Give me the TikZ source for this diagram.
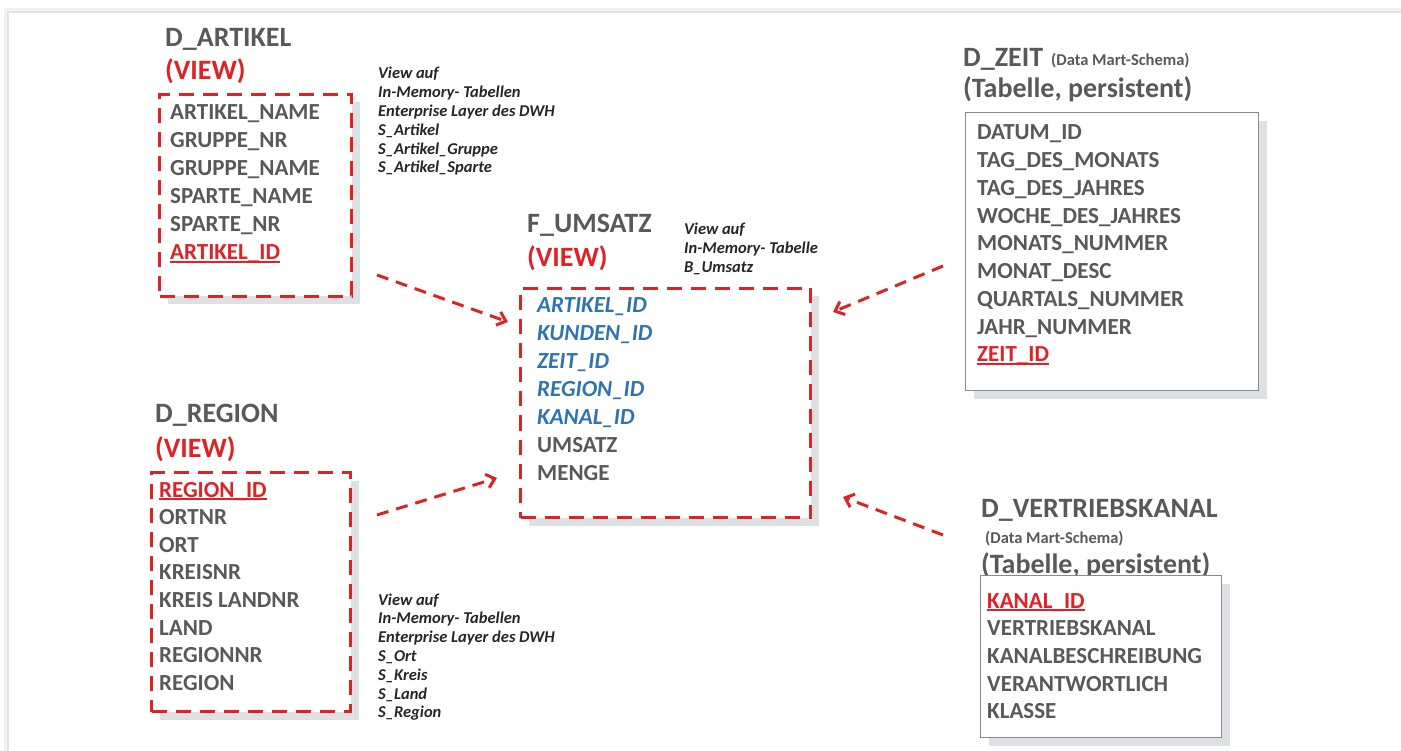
\documentclass[tikz,border=0pt]{standalone}
\usepackage{fontspec}
\setmainfont{Carlito}
\usetikzlibrary{arrows.meta,shadows}

\definecolor{txtgray}{HTML}{595959}
\definecolor{vred}{HTML}{DE2326}
\definecolor{fblue}{HTML}{2E74B5}
\definecolor{anntxt}{HTML}{262626}
\definecolor{shade}{HTML}{DDE1E4}
\definecolor{boxgray}{HTML}{8A8A8A}

% red underline for key columns
\newcommand\keyul[1]{\setbox0\hbox{#1}\rlap{\rule[-2.8pt]{\wd0}{1.6pt}}\box0}

\tikzset{
  ttl/.style={anchor=base west, inner sep=0pt, text=txtgray,
    font=\fontsize{28}{28}\selectfont\bfseries},
  viewlbl/.style={ttl, text=vred},
  small/.style={anchor=base west, inner sep=0pt, text=txtgray,
    font=\fontsize{16.5}{16.5}\selectfont\bfseries},
  fld/.style={anchor=base west, inner sep=0pt, text=txtgray,
    font=\fontsize{23}{23}\selectfont\bfseries},
  keyfld/.style={fld, text=vred},
  fkfld/.style={fld, text=fblue, font=\fontsize{23}{23}\selectfont\bfseries\itshape},
  ann/.style={anchor=base west, inner sep=0pt, text=anntxt,
    font=\fontsize{16.5}{16.5}\selectfont\bfseries\itshape},
  boxshadow/.style={drop shadow={shadow xshift=8pt, shadow yshift=-8pt,
    fill=shade, opacity=1}},
  viewbox/.style={draw=vred, line width=3pt, dash pattern=on 15pt off 9pt,
    fill=white, boxshadow, anchor=north west, inner sep=0pt},
  tablebox/.style={draw=boxgray, line width=1.2pt, fill=white, boxshadow,
    anchor=north west, inner sep=0pt},
  conn/.style={draw=vred, line width=3pt, dash pattern=on 12pt off 8pt,
    -{Straight Barb[length=8pt, width=14pt]}},
}

\begin{document}
\begin{tikzpicture}[x=1pt,y=-1pt]
\useasboundingbox (0,0) rectangle (1401,751);
\fill[white] (0,0) rectangle (1401,751);

% sheet edge with a soft shadow
\draw[black!5, line width=4pt] (6,751) -- (6,10) -- (1401,10);
\draw[black!11, line width=1.6pt] (8,751) -- (8,12) -- (1401,12);
\fill[white] (9,13) rectangle (1401,751);

% ---------------- D_ARTIKEL ----------------
\node[ttl] (artT) at (165,47) {D\_ARTIKEL};
\node[viewlbl] (artV) at (165,80) {(VIEW)};
\node[viewbox, minimum width=192pt, minimum height=202pt] (artbox) at (158,93) {};
\foreach \t [count=\i from 0] in {ARTIKEL\_NAME, GRUPPE\_NR, GRUPPE\_NAME, SPARTE\_NAME, SPARTE\_NR}
  \node[fld] (art\i) at (170,{120+28*\i}) {\t};
\node[keyfld] (artK) at (170,260) {\keyul{ARTIKEL\_ID}};

\foreach \t [count=\i from 0] in {View auf, In-Memory- Tabellen, Enterprise Layer des DWH, S\_Artikel, S\_Artikel\_Gruppe, S\_Artikel\_Sparte}
  \node[ann] (artA\i) at (378,{79+18.8*\i}) {\t};

% ---------------- D_REGION ----------------
\node[ttl] (regT) at (155,422) {D\_REGION};
\node[viewlbl] (regV) at (155,457) {(VIEW)};
\node[viewbox, minimum width=199pt, minimum height=239pt] (regbox) at (150,471) {};
\node[keyfld] (regK) at (159,497) {\keyul{REGION\_ID}};
\foreach \t [count=\i from 1] in {ORTNR, ORT, KREISNR, KREIS LANDNR, LAND, REGIONNR, REGION}
  \node[fld] (reg\i) at (159,{497+27.6*\i}) {\t};

\foreach \t [count=\i from 0] in {View auf, In-Memory- Tabellen, Enterprise Layer des DWH, S\_Ort, S\_Kreis, S\_Land, S\_Region}
  \node[ann] (regA\i) at (378,{605+18.8*\i}) {\t};

% ---------------- F_UMSATZ ----------------
\node[ttl] (fT) at (527,233) {F\_UMSATZ};
\node[viewlbl] (fV) at (527,267) {(VIEW)};
\node[viewbox, minimum width=290pt, minimum height=229pt] (fbox) at (519,287) {};
\foreach \t [count=\i from 0] in {ARTIKEL\_ID, KUNDEN\_ID, ZEIT\_ID, REGION\_ID, KANAL\_ID}
  \node[fkfld] (fk\i) at (537,{313+27.8*\i}) {\t};
\node[fld] (fU) at (537,452) {UMSATZ};
\node[fld] (fM) at (537,480) {MENGE};

\foreach \t [count=\i from 0] in {View auf, In-Memory- Tabelle, B\_Umsatz}
  \node[ann] (fA\i) at (684,{235+18.8*\i}) {\t};

% ---------------- D_ZEIT ----------------
\node[ttl] (zT) at (963,67) {D\_ZEIT};
\node[small] (zS) at (1051,66) {(Data Mart-Schema)};
\node[ttl] (zP) at (963,98) {(Tabelle, persistent)};
\node[tablebox, minimum width=293pt, minimum height=278pt] (zbox) at (965,112) {};
\foreach \t [count=\i from 0] in {DATUM\_ID, TAG\_DES\_MONATS, TAG\_DES\_JAHRES, WOCHE\_DES\_JAHRES, MONATS\_NUMMER, MONAT\_DESC, QUARTALS\_NUMMER, JAHR\_NUMMER}
  \node[fld] (z\i) at (977,{140+27.75*\i}) {\t};
\node[keyfld] (zK) at (977,362) {\keyul{ZEIT\_ID}};

% ---------------- D_VERTRIEBSKANAL ----------------
\node[ttl] (vT) at (981,517) {D\_VERTRIEBSKANAL};
\node[small] (vS) at (985,543) {(Data Mart-Schema)};
\node[ttl] (vP) at (981,573) {(Tabelle, persistent)};
\node[tablebox, minimum width=241pt, minimum height=162pt] (vbox) at (980,575) {};
\node[keyfld] (vK) at (987,608) {\keyul{KANAL\_ID}};
\foreach \t [count=\i from 1] in {VERTRIEBSKANAL, KANALBESCHREIBUNG, VERANTWORTLICH, KLASSE}
  \node[fld] (v\i) at (987,{608+27.7*\i}) {\t};

% ---------------- connectors ----------------
\coordinate (c1s) at (377,275);
\coordinate (c1e) at (508,322);
\coordinate (c2s) at (377,515);
\coordinate (c2e) at (497,478);
\coordinate (c3s) at (943,266);
\coordinate (c3e) at (833,312);
\coordinate (c4s) at (943,535);
\coordinate (c4e) at (843,497);
\draw[conn] (c1s) -- (c1e);
\draw[conn] (c2s) -- (c2e);
\draw[conn] (c3s) -- (c3e);
\draw[conn] (c4s) -- (c4e);
\end{tikzpicture}
\end{document}
